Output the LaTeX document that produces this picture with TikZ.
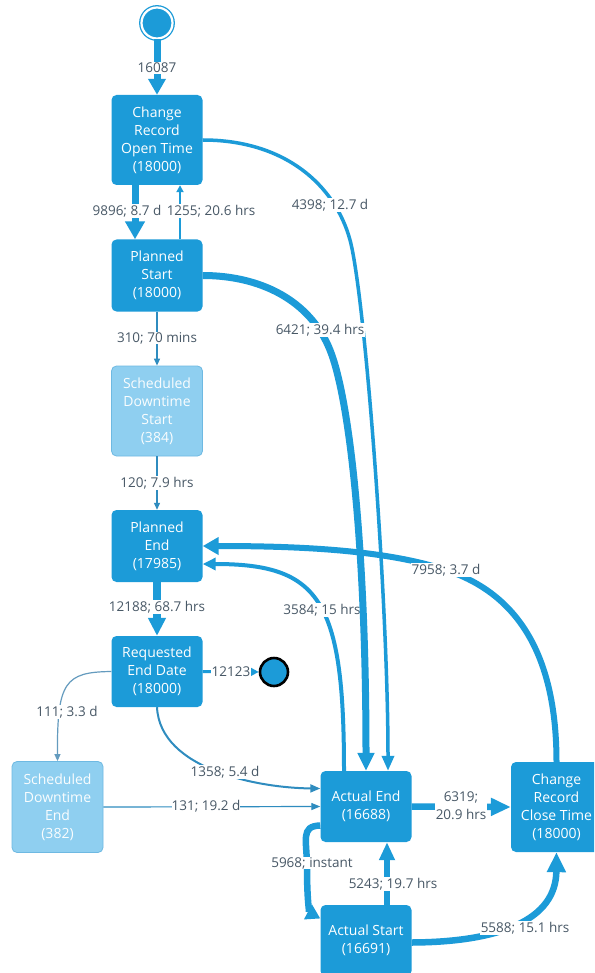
\documentclass[tikz,border=0pt]{standalone}
\usepackage{fontspec}
\setmainfont{Open Sans}
\usetikzlibrary{arrows.meta,calc}
\definecolor{nb}{RGB}{28,155,216}
\definecolor{lightb}{RGB}{143,207,240}
\definecolor{lightbd}{RGB}{110,185,226}
\definecolor{lblc}{RGB}{72,88,102}
\definecolor{thinc}{RGB}{47,140,191}
\definecolor{greyc}{RGB}{100,155,190}
\begin{document}
\begin{tikzpicture}[x=1pt,y=-1pt,
  box/.style={rectangle, rounded corners=5pt, fill=nb, text=white, align=center,
    minimum width=91pt, minimum height=71pt, inner sep=2pt,
    font=\fontsize{14}{18}\selectfont},
  lbox/.style={box, fill=lightb, draw=lightbd, line width=0.8pt, text=white!96!lightb},
  lbl/.style={fill=white, inner sep=0.6pt, text=lblc, align=center,
    font=\fontsize{13.5}{18}\selectfont},
  edge/.style={draw=nb, line width=#1},
  tip/.style 2 args={-{Triangle[length=#1pt,width=#2pt]}}
]
\clip (0,0) rectangle (594,973);
\fill[white] (0,0) rectangle (594,973);

% nodes
\node[circle, fill=nb, draw=nb, double=white, double distance=2.2pt, line width=1.3pt,
      minimum size=31pt, inner sep=0pt] (start) at (157,23) {};
\node[box, minimum height=90pt] (crot) at (157,140) {Change\\Record\\Open Time\\(18000)};
\node[box, minimum height=72pt] (ps) at (157,275.5) {Planned\\Start\\(18000)};
\node[lbox, minimum height=90pt] (sds) at (157,411) {Scheduled\\Downtime\\Start\\(384)};
\node[box, minimum height=72pt] (pe) at (157,546) {Planned\\End\\(17985)};
\node[box, minimum height=71pt] (red) at (157,671.5) {Requested\\End Date\\(18000)};
\node[circle, fill=nb, draw=black, line width=2.6pt, minimum size=28pt, inner sep=0pt] (end) at (274,672) {};
\node[lbox, minimum height=91pt] (sde) at (57.5,807) {Scheduled\\Downtime\\End\\(382)};
\node[box, minimum height=71pt] (ae) at (366,806.5) {Actual End\\(16688)};
\node[box, minimum height=71pt] (as) at (366,940.5) {Actual Start\\(16691)};
\node[box, minimum height=90pt] (crct) at (556.5,807) {Change\\Record\\Close Time\\(18000)};

% edges
\draw[edge=7pt, tip={16}{17}] (start) -- (crot)
  node[lbl, at={(157,68)}] {16087};
\draw[edge=7pt, tip={18}{19}] ($(crot.south)+(-22,0)$) -- ($(ps.north)+(-22,0)$);
\draw[edge=2pt, tip={7}{7}] ($(ps.north)+(23,0)$) -- ($(crot.south)+(23,0)$)
  node[lbl, at={(211,211)}] {1255; 20.6 hrs};
\node[lbl] (l9896) at (127,211) {9896; 8.7 d};

\draw[edge=1.2pt, draw=thinc, tip={7}{6}] (ps) -- (sds)
  node[lbl, at={(157,338)}] {310; 70 mins};
\draw[edge=1.2pt, draw=thinc, tip={7}{6}] (sds) -- (pe)
  node[lbl, at={(157,483)}] {120; 7.9 hrs};

\draw[edge=4pt, tip={13}{12}] ($(ae.north)+(-22,0)$) .. controls (344,600) and (320,564) .. ($(pe.east)+(0,18)$)
  node[lbl, at={(322,610)}] {3584; 15 hrs};

\draw[edge=6pt, tip={16}{17}] (crct.north) .. controls (556.5,640) and (506,590) .. (446,570)
  node[lbl] {7958; 3.7 d}
  .. controls (386,550) and (300,546) .. (pe.east);

\draw[edge=3.5pt, tip={15}{12}] (crot.east) .. controls (285,140) and (335,185) .. (350,240)
  .. controls (365,295) and (388,600) .. ($(ae.north)+(22,0)$)
  node[lbl, at={(330,205)}] {4398; 12.7 d};
\draw[edge=7pt, tip={18}{16}] (ps.east) .. controls (260,275.5) and (310,300) .. (330,350)
  .. controls (350,400) and (366,550) .. (ae.north)
  node[lbl, at={(320,330)}] {6421; 39.4 hrs};

\draw[edge=7.5pt, tip={18}{17}] (pe) -- (red)
  node[lbl, at={(157,607)}] {12188; 68.7 hrs};
\draw[edge=3pt, tip={8}{8}] (red) -- (end)
  node[lbl, at={(231,672)}] {12123};
\draw[edge=1.2pt, draw=greyc, tip={7}{6}] (red.west) .. controls (65,672) and (57,682) .. (sde.north)
  node[lbl, at={(67,712)}] {111; 3.3 d};
\draw[edge=2pt, draw=thinc, tip={10}{8}] (red.south) .. controls (160,770) and (260,788) .. ($(ae.west)+(0,-18)$)
  node[lbl, at={(225,772)}] {1358; 5.4 d};
\draw[edge=1.2pt, draw=thinc, tip={9}{7}] (sde.east) -- (ae.west)
  node[lbl, inner sep=0pt, at={(206,806)}] {131; 19.2 d};

\draw[edge=6.5pt, tip={20}{17}] (ae.east) -- (crct.west)
  node[lbl, at={(461,806)}] {6319;\\20.9 hrs};
\draw[edge=6.5pt, tip={14}{16}] ($(ae.west)+(0,19)$) .. controls (300,826) and (307,840) .. (307,868)
  .. controls (307,905) and (310,913) .. ($(as.west)+(0,-22)$)
  node[lbl, at={(312,863)}] {5968; instant};
\draw[edge=6.5pt, tip={18}{15}] ($(as.north)+(21,0)$) -- ($(ae.south)+(21,0)$)
  node[lbl, at={(393,884)}] {5243; 19.7 hrs};
\draw[edge=6.5pt, tip={20}{18}] ($(as.east)+(0,2)$) .. controls (500,942) and (556,920) .. (crct.south)
  node[lbl, at={(525,928)}] {5588; 15.1 hrs};
\end{tikzpicture}
\end{document}
